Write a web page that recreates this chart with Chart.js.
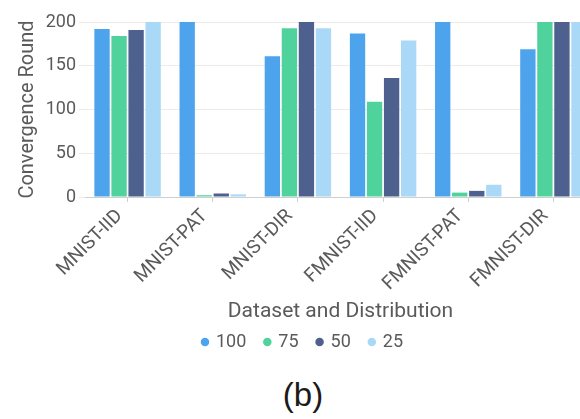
<!DOCTYPE html>
<html>
<head>
<meta charset="utf-8">
<script src="https://cdn.jsdelivr.net/npm/chart.js@4.4.1/dist/chart.umd.min.js"></script>
<style>
  html, body { margin: 0; padding: 0; background: #ffffff; width: 580px; height: 419px; overflow: hidden; }
  #plot { position: absolute; left: 0; top: 0; width: 606px; height: 361px; }
  #caption { position: absolute; left: 0; top: 378px; width: 606px; text-align: center;
             font: 33px/33px "Liberation Sans", Arial, sans-serif; color: #1a1a1a; }
</style>
</head>
<body>
<div id="plot"><canvas id="chart" width="606" height="361"></canvas></div>
<div id="caption">(b)</div>
<script>
// Dataset/distribution combinations on the x axis
const categories = ['MNIST-IID', 'MNIST-PAT', 'MNIST-DIR', 'FMNIST-IID', 'FMNIST-PAT', 'FMNIST-DIR'];
// Legend names of the four client settings
const seriesNames = ['100', '75', '50', '25'];
// Rounds needed to converge, one value per category
const rounds100 = [192, 200, 161, 187, 200, 169];
const rounds75  = [184, 2, 193, 109, 5, 200];
const rounds50  = [191, 4, 200, 136, 7, 200];
const rounds25  = [200, 3, 193, 179, 14, 200];
// Y axis tick values
const yTicks = [0, 50, 100, 150, 200];

const seriesValues = [rounds100, rounds75, rounds50, rounds25];
const seriesColors = ['#4da4ec', '#50d29d', '#4e608e', '#a9d9f6'];

const baseFont = 'Roboto, "Noto Sans", sans-serif';
const textGrey = '#5a5a5a';

new Chart(document.getElementById('chart'), {
  type: 'bar',
  data: {
    labels: categories,
    datasets: seriesNames.map((name, i) => ({
      label: name,
      data: seriesValues[i],
      backgroundColor: seriesColors[i],
      borderWidth: 0,
      pointStyle: 'circle'
    }))
  },
  options: {
    responsive: false,
    animation: false,
    devicePixelRatio: 1,
    layout: { padding: { left: 10, right: 10, top: 22, bottom: 0 } },
    scales: {
      x: {
        grid: { display: true, drawOnChartArea: false, offset: false, color: '#cfcfcf', tickLength: 5 },
        border: { display: true, color: '#cfcfcf' },
        ticks: {
          minRotation: 45, maxRotation: 45, padding: 3, labelOffset: -8,
          color: textGrey, font: { family: baseFont, size: 19 }
        },
        title: {
          display: true, text: 'Dataset and Distribution', color: textGrey,
          font: { family: baseFont, size: 21 }, padding: { top: 4, bottom: -10 }
        },
        afterFit(scale) { scale.height = 117; }
      },
      y: {
        min: 0, max: 200,
        afterBuildTicks(scale) { scale.ticks = yTicks.map(v => ({ value: v })); },
        grid: { color: '#efebe7', tickLength: 6 },
        border: { display: false },
        ticks: { padding: 3, color: textGrey, font: { family: baseFont, size: 18 } },
        title: {
          display: true, text: 'Convergence Round', color: textGrey,
          font: { family: baseFont, size: 20 }, padding: { top: 6, bottom: 0 }
        },
        afterFit(scale) { scale.width = 75; }
      }
    },
    plugins: {
      legend: {
        position: 'bottom',
        labels: {
          usePointStyle: true, boxWidth: 4, boxHeight: 6, padding: 19,
          color: textGrey, font: { family: baseFont, size: 18 }
        }
      },
      tooltip: { enabled: false }
    }
  }
});
</script>
</body>
</html>
